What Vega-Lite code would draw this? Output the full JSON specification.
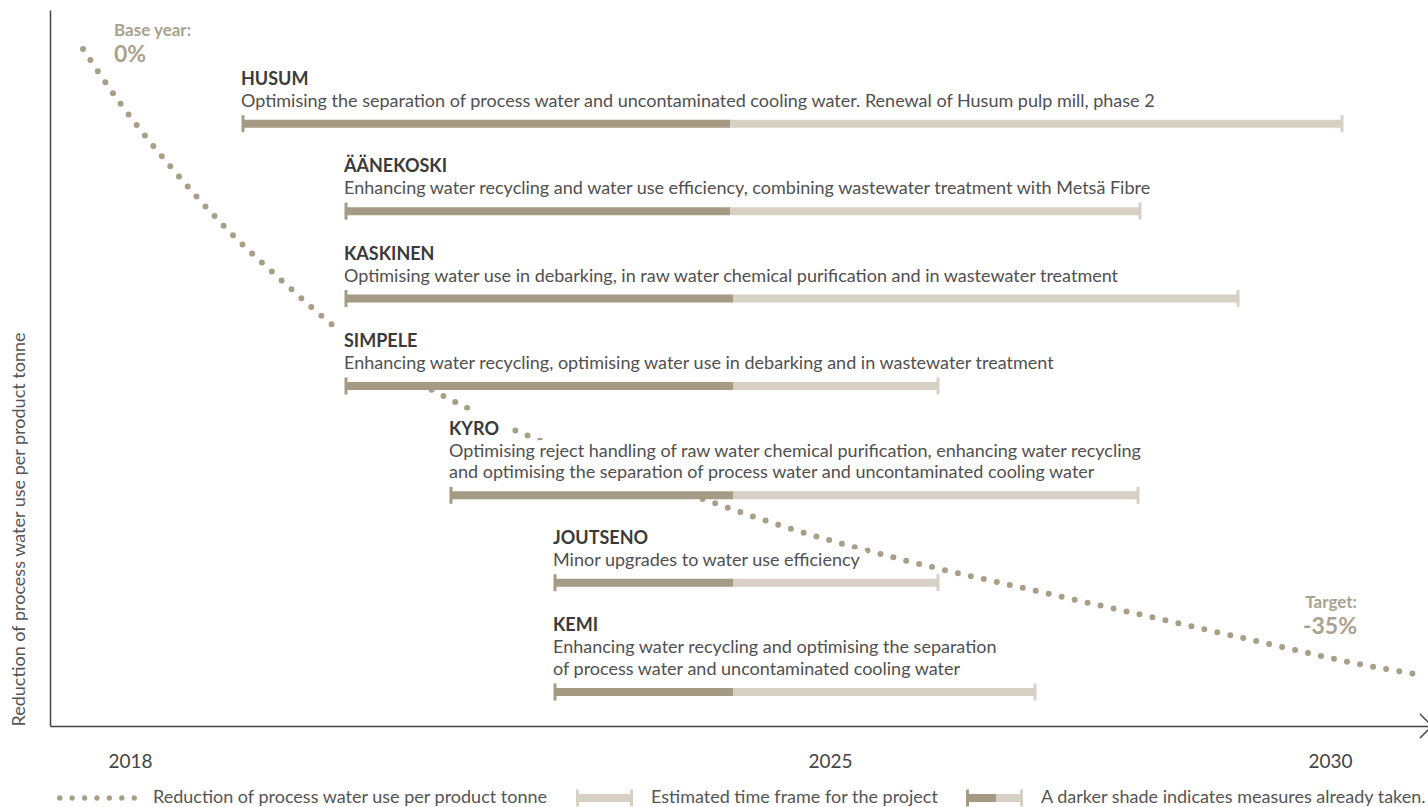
{
  "$schema": "https://vega.github.io/schema/vega-lite/v6.json",
  "width": 1378,
  "height": 716,
  "autosize": {"type": "none"},
  "padding": {"left": 50, "top": 10, "right": 0, "bottom": 81},
  "background": "white",
  "config": {
    "view": {"stroke": null},
    "font": "Lato",
    "text": {"font": "Lato"},
    "axis": {"labelFont": "Lato", "titleFont": "Lato"},
    "legend": {"labelFont": "Lato"}
  },
  "datasets": {
    "curve": [
      {"year": 2017.53, "pct": 0},
      {"year": 2017.90, "pct": -3.02},
      {"year": 2018.40, "pct": -6.54},
      {"year": 2018.93, "pct": -9.84},
      {"year": 2019.60, "pct": -13.36},
      {"year": 2020.00, "pct": -15.32},
      {"year": 2021.02, "pct": -19.06},
      {"year": 2021.37, "pct": -20.07},
      {"year": 2023.81, "pct": -25.32},
      {"year": 2024.55, "pct": -26.72},
      {"year": 2025.73, "pct": -28.56},
      {"year": 2027.15, "pct": -30.41},
      {"year": 2028.34, "pct": -31.92},
      {"year": 2029.52, "pct": -33.43},
      {"year": 2030.23, "pct": -34.32},
      {"year": 2030.92, "pct": -35.0}
    ],
    "notes": [
      {"label": "Base year:", "big": "0%", "year": 2017.84, "pct": 1.0, "side": "left"},
      {"label": "Target:", "big": "-35%", "year": 2030.27, "pct": -31.0, "side": "right"}
    ],
    "rows": [
      {"kind": "title", "text": "HUSUM", "line": 0, "start": 2019.13},
      {"kind": "desc", "text": "Optimising the separation of process water and uncontaminated cooling water. Renewal of Husum pulp mill, phase 2", "line": 1, "start": 2019.13},
      {"kind": "title", "text": "ÄÄNEKOSKI", "line": 4, "start": 2020.16},
      {"kind": "desc", "text": "Enhancing water recycling and water use efficiency, combining wastewater treatment with Metsä Fibre", "line": 5, "start": 2020.16},
      {"kind": "title", "text": "KASKINEN", "line": 8, "start": 2020.16},
      {"kind": "desc", "text": "Optimising water use in debarking, in raw water chemical purification and in wastewater treatment", "line": 9, "start": 2020.16},
      {"kind": "title", "text": "SIMPELE", "line": 12, "start": 2020.16},
      {"kind": "desc", "text": "Enhancing water recycling, optimising water use in debarking and in wastewater treatment", "line": 13, "start": 2020.16},
      {"kind": "title", "text": "KYRO", "line": 16, "start": 2021.21},
      {"kind": "desc", "text": "Optimising reject handling of raw water chemical purification, enhancing water recycling", "line": 17, "start": 2021.21},
      {"kind": "desc", "text": "and optimising the separation of process water and uncontaminated cooling water", "line": 18, "start": 2021.21},
      {"kind": "title", "text": "JOUTSENO", "line": 21, "start": 2022.25},
      {"kind": "desc", "text": "Minor upgrades to water use efficiency", "line": 22, "start": 2022.25},
      {"kind": "title", "text": "KEMI", "line": 25, "start": 2022.25},
      {"kind": "desc", "text": "Enhancing water recycling and optimising the separation", "line": 26, "start": 2022.25},
      {"kind": "desc", "text": "of process water and uncontaminated cooling water", "line": 27, "start": 2022.25}
    ],
    "bars": [
      {"project": "HUSUM", "line": 2, "start": 2019.13, "done": 2024.0, "end": 2030.12},
      {"project": "ÄÄNEKOSKI", "line": 6, "start": 2020.16, "done": 2024.0, "end": 2028.10},
      {"project": "KASKINEN", "line": 10, "start": 2020.16, "done": 2024.03, "end": 2029.08},
      {"project": "SIMPELE", "line": 14, "start": 2020.16, "done": 2024.03, "end": 2026.08},
      {"project": "KYRO", "line": 19, "start": 2021.21, "done": 2024.03, "end": 2028.08},
      {"project": "JOUTSENO", "line": 23, "start": 2022.25, "done": 2024.03, "end": 2026.08},
      {"project": "KEMI", "line": 28, "start": 2022.25, "done": 2024.03, "end": 2027.05}
    ]
  },
  "layer": [
    {
      "data": {"name": "curve"},
      "mark": {"type": "line", "interpolate": "monotone", "strokeWidth": 6, "strokeDash": [0, 13.3], "strokeCap": "round"},
      "encoding": {
        "x": {"field": "year", "type": "quantitative", "title": null, "scale": {"domain": [2017.2, 2030.98], "nice": false, "zero": false},
          "axis": {"values": [2018, 2025, 2030], "format": "d", "ticks": false, "tickSize": 0, "grid": false, "title": null, "labelPadding": 26, "labelFontSize": 19, "labelColor": "#444444", "domainColor": "#444444", "domainWidth": 1.5, "labelFlush": false}},
        "y": {"field": "pct", "type": "quantitative", "scale": {"domain": [-37.85, 2.18], "nice": false, "zero": false},
          "axis": {"labels": false, "ticks": false, "tickSize": 0, "grid": false, "domainColor": "#444444", "domainWidth": 1.5, "title": "Reduction of process water use per product tonne", "titleFontSize": 18, "titleFontWeight": "normal", "titleColor": "#555555", "titleAnchor": "start", "titlePadding": 22}},
        "color": {"datum": "Reduction of process water use per product tonne",
          "scale": {"domain": ["Reduction of process water use per product tonne", "Estimated time frame for the project", "A darker shade indicates measures already taken."], "range": ["#a89f88", "#d6d1c4", "#a59b85"]},
          "legend": {
            "orient": "none", "legendX": 7, "legendY": 748, "direction": "horizontal", "title": null,
            "columnPadding": 6, "labelFontSize": 18, "labelColor": "#555555", "labelOffset": 16, "labelLimit": 1000,
            "symbolSize": 6400, "padding": 0, "offset": 0,
            "encode": {
              "symbols": {
                "update": {
                  "shape": [
                    {"test": "datum.value === 'Reduction of process water use per product tonne'", "value": "M-1,0a0.069,0.069 0 1,0 0.138,0a0.069,0.069 0 1,0 -0.138,0ZM-0.69,0a0.069,0.069 0 1,0 0.138,0a0.069,0.069 0 1,0 -0.138,0ZM-0.379,0a0.069,0.069 0 1,0 0.138,0a0.069,0.069 0 1,0 -0.138,0ZM-0.069,0a0.069,0.069 0 1,0 0.138,0a0.069,0.069 0 1,0 -0.138,0ZM0.241,0a0.069,0.069 0 1,0 0.138,0a0.069,0.069 0 1,0 -0.138,0ZM0.552,0a0.069,0.069 0 1,0 0.138,0a0.069,0.069 0 1,0 -0.138,0ZM0.862,0a0.069,0.069 0 1,0 0.138,0a0.069,0.069 0 1,0 -0.138,0Z"},
                    {"value": "M-0.475,-0.2125h0.075v0.1125h1.275v-0.1125h0.075v0.425h-0.075v-0.1125h-1.275v0.1125h-0.075Z"}
                  ],
                  "size": {"value": 6400},
                  "fill": [
                    {"test": "datum.value === 'A darker shade indicates measures already taken.'", "value": {"gradient": "linear", "stops": [{"offset": 0, "color": "#a59b85"}, {"offset": 0.53, "color": "#a59b85"}, {"offset": 0.53, "color": "#d6d1c4"}, {"offset": 1, "color": "#d6d1c4"}]}},
                    {"test": "datum.value === 'Estimated time frame for the project'", "value": "#d6d1c4"},
                    {"value": "#a89f88"}
                  ],
                  "fillOpacity": {"value": 1},
                  "opacity": {"value": 1},
                  "stroke": {"value": "transparent"},
                  "strokeWidth": {"value": 0}
                }
              }
            }
          }
        }
      }
    },
    {
      "data": {"name": "notes"},
      "transform": [{"filter": "datum.side === 'left'"}],
      "mark": {"type": "text", "align": "left", "baseline": "middle", "fontWeight": "bold", "fontSize": 17, "color": "#aaa28e"},
      "encoding": {
        "x": {"field": "year", "type": "quantitative", "title": null, "scale": {"domain": [2017.2, 2030.98], "nice": false, "zero": false},
          "axis": {"values": [2018, 2025, 2030], "format": "d", "ticks": false, "tickSize": 0, "grid": false, "title": null, "labelPadding": 26, "labelFontSize": 19, "labelColor": "#444444", "domainColor": "#444444", "domainWidth": 1.5, "labelFlush": false}},
        "y": {"field": "pct", "type": "quantitative", "scale": {"domain": [-37.85, 2.18], "nice": false, "zero": false}, "axis": null},
        "text": {"field": "label"}
      }
    },
    {
      "data": {"name": "notes"},
      "transform": [{"filter": "datum.side === 'left'"}],
      "mark": {"type": "text", "align": "left", "baseline": "middle", "fontWeight": "bold", "fontSize": 23, "dy": 24, "color": "#aaa28e"},
      "encoding": {
        "x": {"field": "year", "type": "quantitative", "title": null, "scale": {"domain": [2017.2, 2030.98], "nice": false, "zero": false},
          "axis": {"values": [2018, 2025, 2030], "format": "d", "ticks": false, "tickSize": 0, "grid": false, "title": null, "labelPadding": 26, "labelFontSize": 19, "labelColor": "#444444", "domainColor": "#444444", "domainWidth": 1.5, "labelFlush": false}},
        "y": {"field": "pct", "type": "quantitative", "scale": {"domain": [-37.85, 2.18], "nice": false, "zero": false}, "axis": null},
        "text": {"field": "big"}
      }
    },
    {
      "data": {"name": "notes"},
      "transform": [{"filter": "datum.side === 'right'"}],
      "mark": {"type": "text", "align": "right", "baseline": "middle", "fontWeight": "bold", "fontSize": 17, "color": "#aaa28e"},
      "encoding": {
        "x": {"field": "year", "type": "quantitative", "title": null, "scale": {"domain": [2017.2, 2030.98], "nice": false, "zero": false},
          "axis": {"values": [2018, 2025, 2030], "format": "d", "ticks": false, "tickSize": 0, "grid": false, "title": null, "labelPadding": 26, "labelFontSize": 19, "labelColor": "#444444", "domainColor": "#444444", "domainWidth": 1.5, "labelFlush": false}},
        "y": {"field": "pct", "type": "quantitative", "scale": {"domain": [-37.85, 2.18], "nice": false, "zero": false}, "axis": null},
        "text": {"field": "label"}
      }
    },
    {
      "data": {"name": "notes"},
      "transform": [{"filter": "datum.side === 'right'"}],
      "mark": {"type": "text", "align": "right", "baseline": "middle", "fontWeight": "bold", "fontSize": 23, "dy": 24, "color": "#aaa28e"},
      "encoding": {
        "x": {"field": "year", "type": "quantitative", "title": null, "scale": {"domain": [2017.2, 2030.98], "nice": false, "zero": false},
          "axis": {"values": [2018, 2025, 2030], "format": "d", "ticks": false, "tickSize": 0, "grid": false, "title": null, "labelPadding": 26, "labelFontSize": 19, "labelColor": "#444444", "domainColor": "#444444", "domainWidth": 1.5, "labelFlush": false}},
        "y": {"field": "pct", "type": "quantitative", "scale": {"domain": [-37.85, 2.18], "nice": false, "zero": false}, "axis": null},
        "text": {"field": "big"}
      }
    },
    {
      "data": {"values": [{"year": 2031.02, "pct": -37.85}]},
      "mark": {"type": "point", "shape": "M-1,-1L0,0L-1,1", "filled": false, "stroke": "#444444", "strokeWidth": 1.5, "size": 576, "opacity": 1, "clip": false},
      "encoding": {
        "x": {"field": "year", "type": "quantitative", "title": null, "scale": {"domain": [2017.2, 2030.98], "nice": false, "zero": false},
          "axis": {"values": [2018, 2025, 2030], "format": "d", "ticks": false, "tickSize": 0, "grid": false, "title": null, "labelPadding": 26, "labelFontSize": 19, "labelColor": "#444444", "domainColor": "#444444", "domainWidth": 1.5, "labelFlush": false}},
        "y": {"field": "pct", "type": "quantitative", "scale": {"domain": [-37.85, 2.18], "nice": false, "zero": false}, "axis": null}
      }
    },
    {
      "data": {"name": "rows"},
      "transform": [{"filter": "datum.kind === 'title'"}],
      "mark": {"type": "text", "align": "left", "baseline": "middle", "dx": -2, "fontSize": 18, "fontWeight": "bold", "fill": "white", "stroke": "white", "strokeWidth": 22, "strokeJoin": "round"},
      "encoding": {
        "x": {"field": "start", "type": "quantitative", "title": null, "scale": {"domain": [2017.2, 2030.98], "nice": false, "zero": false},
          "axis": {"values": [2018, 2025, 2030], "format": "d", "ticks": false, "tickSize": 0, "grid": false, "title": null, "labelPadding": 26, "labelFontSize": 19, "labelColor": "#444444", "domainColor": "#444444", "domainWidth": 1.5, "labelFlush": false}},
        "y": {"field": "line", "type": "quantitative", "scale": {"domain": [-3.203, 29.556], "reverse": true, "nice": false, "zero": false}, "axis": null},
        "text": {"field": "text"}
      }
    },
    {
      "data": {"name": "rows"},
      "transform": [{"filter": "datum.kind === 'desc'"}],
      "mark": {"type": "text", "align": "left", "baseline": "middle", "dx": -2, "fontSize": 18, "fill": "white", "stroke": "white", "strokeWidth": 16, "strokeJoin": "round"},
      "encoding": {
        "x": {"field": "start", "type": "quantitative", "title": null, "scale": {"domain": [2017.2, 2030.98], "nice": false, "zero": false},
          "axis": {"values": [2018, 2025, 2030], "format": "d", "ticks": false, "tickSize": 0, "grid": false, "title": null, "labelPadding": 26, "labelFontSize": 19, "labelColor": "#444444", "domainColor": "#444444", "domainWidth": 1.5, "labelFlush": false}},
        "y": {"field": "line", "type": "quantitative", "scale": {"domain": [-3.203, 29.556], "reverse": true, "nice": false, "zero": false}, "axis": null},
        "text": {"field": "text"}
      }
    },
    {
      "data": {"name": "bars"},
      "mark": {"type": "rule", "strokeWidth": 10, "strokeCap": "butt", "color": "white", "yOffset": -8},
      "encoding": {
        "x": {"field": "start", "type": "quantitative", "title": null, "scale": {"domain": [2017.2, 2030.98], "nice": false, "zero": false},
          "axis": {"values": [2018, 2025, 2030], "format": "d", "ticks": false, "tickSize": 0, "grid": false, "title": null, "labelPadding": 26, "labelFontSize": 19, "labelColor": "#444444", "domainColor": "#444444", "domainWidth": 1.5, "labelFlush": false}},
        "x2": {"field": "end"},
        "y": {"field": "line", "type": "quantitative", "scale": {"domain": [-3.203, 29.556], "reverse": true, "nice": false, "zero": false}, "axis": null}
      }
    },
    {
      "data": {"name": "bars"},
      "mark": {"type": "rule", "strokeWidth": 8, "strokeCap": "butt"},
      "encoding": {
        "x": {"field": "start", "type": "quantitative", "title": null, "scale": {"domain": [2017.2, 2030.98], "nice": false, "zero": false},
          "axis": {"values": [2018, 2025, 2030], "format": "d", "ticks": false, "tickSize": 0, "grid": false, "title": null, "labelPadding": 26, "labelFontSize": 19, "labelColor": "#444444", "domainColor": "#444444", "domainWidth": 1.5, "labelFlush": false}},
        "x2": {"field": "done"},
        "y": {"field": "line", "type": "quantitative", "scale": {"domain": [-3.203, 29.556], "reverse": true, "nice": false, "zero": false}, "axis": null},
        "color": {"datum": "A darker shade indicates measures already taken.", "legend": null}
      }
    },
    {
      "data": {"name": "bars"},
      "mark": {"type": "rule", "strokeWidth": 8, "strokeCap": "butt"},
      "encoding": {
        "x": {"field": "done", "type": "quantitative", "title": null, "scale": {"domain": [2017.2, 2030.98], "nice": false, "zero": false},
          "axis": {"values": [2018, 2025, 2030], "format": "d", "ticks": false, "tickSize": 0, "grid": false, "title": null, "labelPadding": 26, "labelFontSize": 19, "labelColor": "#444444", "domainColor": "#444444", "domainWidth": 1.5, "labelFlush": false}},
        "x2": {"field": "end"},
        "y": {"field": "line", "type": "quantitative", "scale": {"domain": [-3.203, 29.556], "reverse": true, "nice": false, "zero": false}, "axis": null},
        "color": {"datum": "Estimated time frame for the project", "legend": null}
      }
    },
    {
      "data": {"name": "bars"},
      "mark": {"type": "tick", "orient": "vertical", "thickness": 3, "size": 17, "color": "#a59b85", "opacity": 1},
      "encoding": {
        "x": {"field": "start", "type": "quantitative", "title": null, "scale": {"domain": [2017.2, 2030.98], "nice": false, "zero": false},
          "axis": {"values": [2018, 2025, 2030], "format": "d", "ticks": false, "tickSize": 0, "grid": false, "title": null, "labelPadding": 26, "labelFontSize": 19, "labelColor": "#444444", "domainColor": "#444444", "domainWidth": 1.5, "labelFlush": false}},
        "y": {"field": "line", "type": "quantitative", "scale": {"domain": [-3.203, 29.556], "reverse": true, "nice": false, "zero": false}, "axis": null}
      }
    },
    {
      "data": {"name": "bars"},
      "mark": {"type": "tick", "orient": "vertical", "thickness": 3, "size": 17, "color": "#d6d1c4", "opacity": 1},
      "encoding": {
        "x": {"field": "end", "type": "quantitative", "title": null, "scale": {"domain": [2017.2, 2030.98], "nice": false, "zero": false},
          "axis": {"values": [2018, 2025, 2030], "format": "d", "ticks": false, "tickSize": 0, "grid": false, "title": null, "labelPadding": 26, "labelFontSize": 19, "labelColor": "#444444", "domainColor": "#444444", "domainWidth": 1.5, "labelFlush": false}},
        "y": {"field": "line", "type": "quantitative", "scale": {"domain": [-3.203, 29.556], "reverse": true, "nice": false, "zero": false}, "axis": null}
      }
    },
    {
      "data": {"name": "rows"},
      "transform": [{"filter": "datum.kind === 'title'"}],
      "mark": {"type": "text", "align": "left", "baseline": "middle", "dx": -2, "fontSize": 18, "fontWeight": "bold", "color": "#3a3a3a"},
      "encoding": {
        "x": {"field": "start", "type": "quantitative", "title": null, "scale": {"domain": [2017.2, 2030.98], "nice": false, "zero": false},
          "axis": {"values": [2018, 2025, 2030], "format": "d", "ticks": false, "tickSize": 0, "grid": false, "title": null, "labelPadding": 26, "labelFontSize": 19, "labelColor": "#444444", "domainColor": "#444444", "domainWidth": 1.5, "labelFlush": false}},
        "y": {"field": "line", "type": "quantitative", "scale": {"domain": [-3.203, 29.556], "reverse": true, "nice": false, "zero": false}, "axis": null},
        "text": {"field": "text"}
      }
    },
    {
      "data": {"name": "rows"},
      "transform": [{"filter": "datum.kind === 'desc'"}],
      "mark": {"type": "text", "align": "left", "baseline": "middle", "dx": -2, "fontSize": 18, "color": "#505050"},
      "encoding": {
        "x": {"field": "start", "type": "quantitative", "title": null, "scale": {"domain": [2017.2, 2030.98], "nice": false, "zero": false},
          "axis": {"values": [2018, 2025, 2030], "format": "d", "ticks": false, "tickSize": 0, "grid": false, "title": null, "labelPadding": 26, "labelFontSize": 19, "labelColor": "#444444", "domainColor": "#444444", "domainWidth": 1.5, "labelFlush": false}},
        "y": {"field": "line", "type": "quantitative", "scale": {"domain": [-3.203, 29.556], "reverse": true, "nice": false, "zero": false}, "axis": null},
        "text": {"field": "text"}
      }
    }
  ],
  "resolve": {"scale": {"y": "independent"}, "axis": {"x": "shared"}}
}
